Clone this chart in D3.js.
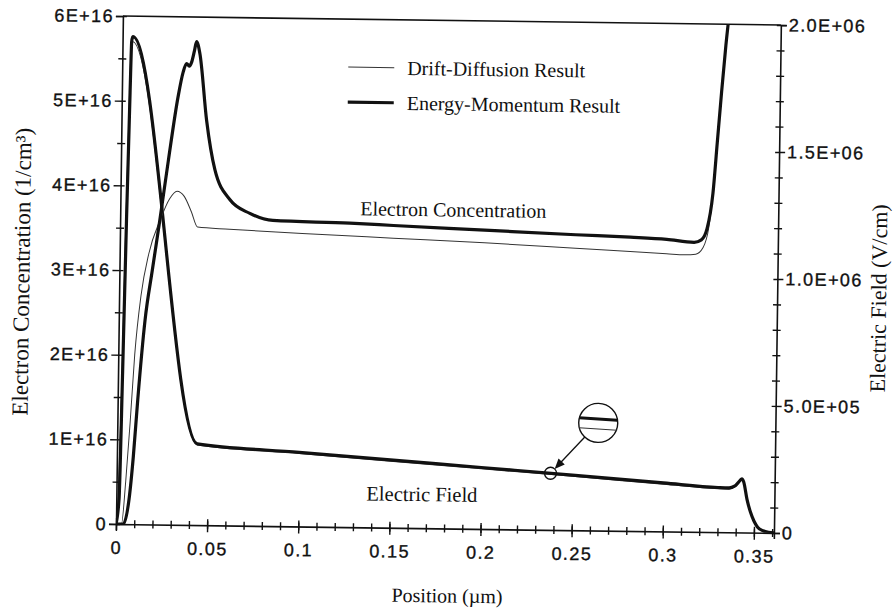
<!DOCTYPE html>
<html>
<head>
<meta charset="utf-8">
<script src="https://cdn.jsdelivr.net/npm/d3@7"></script>
<style>
  body { margin: 0; background: #fff; }
  svg { display: block; }
</style>
</head>
<body>
<svg id="chart" width="894" height="611"></svg>
<script>
// ---- Axis ticks ----
const positionMajor = [0, 0.05, 0.1, 0.15, 0.2, 0.25, 0.3, 0.35];
const positionLabels = ["0", "0.05", "0.1", "0.15", "0.2", "0.25", "0.3", "0.35"];
const positionMinor = d3.range(1, 37).map(i => i / 100);
const concMajor = [0, 1e16, 2e16, 3e16, 4e16, 5e16, 6e16];
const concLabels = ["0", "1E+16", "2E+16", "3E+16", "4E+16", "5E+16", "6E+16"];
const concMinor = [0.5e16, 1.5e16, 2.5e16, 3.5e16, 4.5e16, 5.5e16];
const fieldMajor = [0, 5e5, 1e6, 1.5e6, 2e6];
const fieldLabels = ["0", "5.0E+05", "1.0E+06", "1.5E+06", "2.0E+06"];
const fieldMinor = [1e5, 2e5, 3e5, 4e5, 6e5, 7e5, 8e5, 9e5, 1.1e6, 1.2e6, 1.3e6, 1.4e6, 1.6e6, 1.7e6, 1.8e6, 1.9e6];

// ---- Electron concentration (1/cm^3) ----
const ddConcPos = [0, 0.003, 0.005, 0.007, 0.009, 0.012, 0.016, 0.022, 0.027, 0.031, 0.035, 0.039, 0.0425,
  0.06, 0.1, 0.15, 0.2, 0.25, 0.28, 0.3, 0.31, 0.316, 0.32, 0.323, 0.325, 0.327, 0.329, 0.331, 0.333];
const ddConcVal = [0, 0, 0.5e16, 1.2e16, 2.0e16, 2.7e16, 3.2e16, 3.6e16, 3.85e16, 3.94e16, 3.88e16, 3.7e16, 3.52e16,
  3.5e16, 3.46e16, 3.42e16, 3.38e16, 3.33e16, 3.3e16, 3.28e16, 3.27e16, 3.28e16, 3.36e16, 3.6e16, 4.0e16, 4.6e16, 5.2e16, 5.75e16, 6.2e16];
const emConcPos = [0, 0.004, 0.007, 0.009, 0.011, 0.0144, 0.018, 0.0218, 0.026, 0.0309, 0.0335, 0.0353, 0.0368, 0.0381, 0.0395, 0.0406,
  0.0425, 0.0467, 0.0516, 0.06, 0.0711, 0.0838, 0.126, 0.15, 0.2, 0.25, 0.28, 0.3, 0.315, 0.319, 0.322, 0.325, 0.327, 0.329, 0.331, 0.333];
const emConcVal = [0, 0, 0.3e16, 0.8e16, 1.47e16, 2.41e16, 3.0e16, 3.6e16, 4.3e16, 5.06e16, 5.35e16, 5.45e16, 5.42e16, 5.47e16, 5.6e16, 5.71e16,
  5.57e16, 4.78e16, 4.2e16, 3.85e16, 3.69e16, 3.61e16, 3.59e16, 3.57e16, 3.53e16, 3.49e16, 3.47e16, 3.45e16, 3.42e16, 3.45e16, 3.58e16, 4.0e16, 4.6e16, 5.2e16, 5.75e16, 6.2e16];

// ---- Electric field (V/cm) ----
const ddFieldPos = [0, 0.001, 0.002, 0.003, 0.004, 0.0048, 0.0055, 0.044, 0.1, 0.15, 0.2, 0.25, 0.3, 0.33, 0.336,
  0.339, 0.341, 0.343, 0.344, 0.346, 0.348, 0.35, 0.352, 0.355, 0.358, 0.361];
const ddFieldVal = [0, 0.1e6, 0.5e6, 1.1e6, 1.6e6, 1.88e6, 1.9e6, 0.315e6, 0.287e6, 0.262e6, 0.237e6, 0.212e6, 0.186e6, 0.171e6, 0.17e6,
  0.178e6, 0.192e6, 0.207e6, 0.197e6, 0.13e6, 0.08e6, 0.045e6, 0.022e6, 0.008e6, 0.002e6, 0];
const emFieldPos = [0, 0.0015, 0.0025, 0.0035, 0.0045, 0.005, 0.0056, 0.044, 0.1, 0.15, 0.2, 0.25, 0.3, 0.33, 0.336,
  0.339, 0.341, 0.343, 0.344, 0.346, 0.348, 0.35, 0.352, 0.355, 0.358, 0.361];
const emFieldVal = [0, 0.1e6, 0.6e6, 1.2e6, 1.7e6, 1.9e6, 1.92e6, 0.32e6, 0.292e6, 0.267e6, 0.242e6, 0.217e6, 0.191e6, 0.176e6, 0.175e6,
  0.182e6, 0.196e6, 0.211e6, 0.2e6, 0.13e6, 0.08e6, 0.045e6, 0.022e6, 0.008e6, 0.002e6, 0];

// ---- Layout ----
const plotLeft = 116, plotTop = 16, W = 658, H = 508;
const tilt = 0.78;

const x = d3.scaleLinear().domain([0, 0.361]).range([0, W]);
const yConc = d3.scaleLinear().domain([0, 6e16]).range([H, 0]);
const yField = d3.scaleLinear().domain([0, 2e6]).range([H, 0]);

const svg = d3.select("#chart");
const page = svg.append("g").attr("transform", `rotate(${tilt},${plotLeft},${plotTop + H})`);
const plot = page.append("g").attr("transform", `translate(${plotLeft},${plotTop})`);

const tickFont = "'Liberation Sans', Arial, sans-serif";
const serif = "'Liberation Serif', 'Times New Roman', serif";

plot.append("clipPath").attr("id", "plot-clip")
  .append("rect").attr("x", 0).attr("y", 0).attr("width", W).attr("height", H);

// ---- Axes ----
const xMajorAxis = d3.axisBottom(x).tickValues(positionMajor)
  .tickFormat((d, i) => positionLabels[i]).tickSize(6).tickPadding(11);
const xMinorAxis = d3.axisBottom(x).tickValues(positionMinor).tickFormat("").tickSize(4);
const gxMinor = plot.append("g").attr("transform", `translate(0,${H})`).call(xMinorAxis);
gxMinor.selectAll(".tick line").attr("y1", -4).attr("y2", 4);
const gx = plot.append("g").attr("transform", `translate(0,${H})`).call(xMajorAxis);
gx.selectAll(".tick line").attr("y1", -6).attr("y2", 7);

const yLMajor = d3.axisLeft(yConc).tickValues(concMajor).tickFormat((d, i) => concLabels[i]).tickSize(7).tickPadding(2);
const yLMinor = d3.axisLeft(yConc).tickValues(concMinor).tickFormat("").tickSize(4);
const gyMinor = plot.append("g").call(yLMinor);
gyMinor.selectAll(".tick line").attr("x1", -4).attr("x2", 4);
const gy = plot.append("g").call(yLMajor);
gy.selectAll(".tick line").attr("x1", -7).attr("x2", 4);

const yRMajor = d3.axisRight(yField).tickValues(fieldMajor).tickFormat((d, i) => fieldLabels[i]).tickSize(6).tickPadding(2);
const yRMinor = d3.axisRight(yField).tickValues(fieldMinor).tickFormat("").tickSize(4);
const gr = plot.append("g").attr("transform", `translate(${W},0)`);
const grMinor = gr.append("g").call(yRMinor);
grMinor.selectAll(".tick line").attr("x1", -4).attr("x2", 4);
const grMajor = gr.append("g").call(yRMajor);
grMajor.selectAll(".tick line").attr("x1", -4).attr("x2", 6);

[gx, gxMinor, gy, gyMinor, grMinor, grMajor].forEach(g => {
  g.selectAll(".domain").attr("stroke", "#111").attr("stroke-width", 1.6);
  g.selectAll(".tick line").attr("stroke", "#111").attr("stroke-width", 1.4);
  g.selectAll("text").attr("fill", "#111").attr("font-family", tickFont)
    .attr("font-size", 18).attr("letter-spacing", 1.4)
    .attr("stroke", "#111").attr("stroke-width", 0.35);
});
grMinor.select(".domain").remove();
gxMinor.select(".domain").remove();
gyMinor.select(".domain").remove();

// top frame line
plot.append("line").attr("x1", 0).attr("x2", W).attr("y1", 0).attr("y2", 0)
  .attr("stroke", "#111").attr("stroke-width", 1.6);

// ---- Curves ----
const zipPts = (a, b) => a.map((p, i) => [p, b[i]]);
const concLine = d3.line().x(d => x(d[0])).y(d => yConc(d[1])).curve(d3.curveMonotoneX);
const fieldLine = d3.line().x(d => x(d[0])).y(d => yField(d[1])).curve(d3.curveMonotoneX);

const curves = plot.append("g").attr("clip-path", "url(#plot-clip)");
curves.append("path").datum(zipPts(ddFieldPos, ddFieldVal))
  .attr("d", fieldLine).attr("fill", "none").attr("stroke", "#333").attr("stroke-width", 1);
curves.append("path").datum(zipPts(emFieldPos, emFieldVal))
  .attr("d", fieldLine).attr("fill", "none").attr("stroke", "#111").attr("stroke-width", 3.2).attr("stroke-linejoin", "round");
curves.append("path").datum(zipPts(ddConcPos, ddConcVal))
  .attr("d", concLine).attr("fill", "none").attr("stroke", "#333").attr("stroke-width", 1);
curves.append("path").datum(zipPts(emConcPos, emConcVal))
  .attr("d", concLine).attr("fill", "none").attr("stroke", "#111").attr("stroke-width", 3.2).attr("stroke-linejoin", "round");

// ---- Magnifier callout on the electric field ----
const spotPos = 0.238;
const spotField = d3.interpolateNumber(emFieldVal[10], emFieldVal[11])((spotPos - 0.2) / 0.05);
const sx = x(spotPos), sy = yField(spotField);
const bx = sx + 47, by = sy - 51, br = 19.5;
plot.append("circle").attr("cx", sx).attr("cy", sy).attr("r", 6)
  .attr("fill", "none").attr("stroke", "#111").attr("stroke-width", 1.3);
plot.append("circle").attr("cx", bx).attr("cy", by).attr("r", br)
  .attr("fill", "#fff").attr("stroke", "#111").attr("stroke-width", 1.4);
plot.append("line").attr("x1", bx - br + 0.5).attr("x2", bx + br - 0.5).attr("y1", by - 5).attr("y2", by - 3)
  .attr("stroke", "#111").attr("stroke-width", 3);
plot.append("line").attr("x1", bx - br + 0.5).attr("x2", bx + br - 0.5).attr("y1", by + 5).attr("y2", by + 7)
  .attr("stroke", "#333").attr("stroke-width", 1);
// arrow from the lens to the spot
const ang = Math.atan2(sy - by, sx - bx);
const ax1 = bx + Math.cos(ang) * br, ay1 = by + Math.sin(ang) * br;
const ax2 = sx - Math.cos(ang) * 6, ay2 = sy - Math.sin(ang) * 6;
plot.append("line").attr("x1", ax1).attr("y1", ay1).attr("x2", ax2 - Math.cos(ang) * 6).attr("y2", ay2 - Math.sin(ang) * 6)
  .attr("stroke", "#111").attr("stroke-width", 1.3);
const head = d3.path();
head.moveTo(ax2, ay2);
head.lineTo(ax2 - Math.cos(ang - 0.4) * 11, ay2 - Math.sin(ang - 0.4) * 11);
head.lineTo(ax2 - Math.cos(ang + 0.4) * 11, ay2 - Math.sin(ang + 0.4) * 11);
head.closePath();
plot.append("path").attr("d", head.toString()).attr("fill", "#111");

// ---- Curve labels ----
plot.append("text").attr("x", 240).attr("y", 196)
  .attr("font-family", serif).attr("font-size", 20).attr("fill", "#111").text("Electron Concentration");
plot.append("text").attr("x", 250).attr("y", 481)
  .attr("font-family", serif).attr("font-size", 20.5).attr("fill", "#111").text("Electric Field");

// ---- Legend ----
const legend = plot.append("g").attr("transform", "translate(226,48)");
legend.append("line").attr("x1", 0).attr("x2", 46).attr("y1", 0).attr("y2", 0)
  .attr("stroke", "#333").attr("stroke-width", 1);
legend.append("text").attr("x", 59).attr("y", 7)
  .attr("font-family", serif).attr("font-size", 20).attr("fill", "#111").text("Drift-Diffusion Result");
legend.append("line").attr("x1", 0).attr("x2", 46).attr("y1", 35).attr("y2", 35)
  .attr("stroke", "#111").attr("stroke-width", 3.2);
legend.append("text").attr("x", 59).attr("y", 42)
  .attr("font-family", serif).attr("font-size", 20).attr("fill", "#111").text("Energy-Momentum Result");

// ---- Axis titles ----
page.append("text").attr("transform", "translate(26,273) rotate(-90)")
  .attr("text-anchor", "middle").attr("font-family", serif).attr("font-size", 23).attr("fill", "#111")
  .text("Electron Concentration (1/cm³)");
page.append("text").attr("transform", "translate(883,288) rotate(-90)")
  .attr("text-anchor", "middle").attr("font-family", serif).attr("font-size", 22).attr("fill", "#111")
  .text("Electric Field (V/cm)");
page.append("text").attr("x", 448).attr("y", 598)
  .attr("text-anchor", "middle").attr("font-family", serif).attr("font-size", 20).attr("fill", "#111")
  .text("Position (µm)");
</script>
</body>
</html>
